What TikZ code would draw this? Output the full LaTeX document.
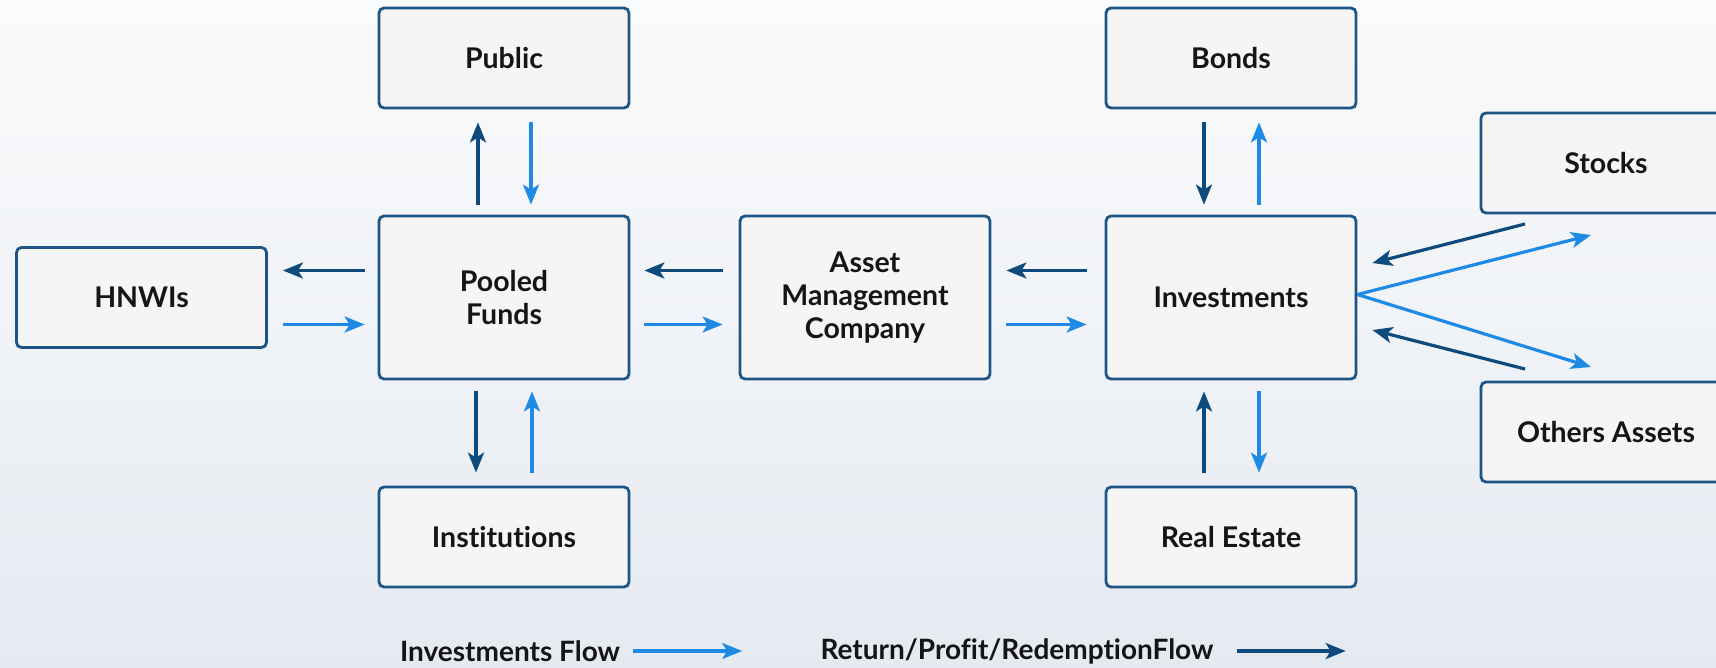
\documentclass[tikz,border=0pt]{standalone}
\usepackage{fontspec}
\setmainfont{Lato}[Ligatures=NoCommon]
\usetikzlibrary{arrows.meta,calc}
\definecolor{bgtop}{HTML}{FAFBFC}
\definecolor{bgbot}{HTML}{E5EAF1}
\definecolor{boxfill}{HTML}{F5F5F5}
\definecolor{boxline}{HTML}{1D5587}
\definecolor{darkarr}{HTML}{0E4A7B}
\definecolor{lightarr}{HTML}{1E8AE6}
\definecolor{txt}{HTML}{151515}
\begin{document}
\begin{tikzpicture}[x=1pt,y=-1pt,
  box/.style={draw=boxline,fill=boxfill,line width=2.8pt,rounded corners=5pt,
    minimum width=250pt,minimum height=100pt,align=center,text=txt,
    font=\fontsize{28.5}{33}\selectfont\bfseries,inner sep=0pt},
  tall/.style={minimum height=163pt},
  dk/.style={draw=darkarr,line width=3.2pt,-{Stealth[length=20pt,width=16pt,inset=5pt]}},
  lt/.style={draw=lightarr,line width=3.2pt,-{Stealth[length=20pt,width=16pt,inset=5pt]}},
  leg/.style={text=txt,font=\fontsize{28}{32}\selectfont\bfseries,inner sep=0pt}]
\useasboundingbox (0,0) rectangle (1716,667);
\clip (0,0) rectangle (1716,667);
\shade[top color=bgtop,bottom color=bgbot] (0,0) rectangle (1716,667);
% boxes
\node[box] (pub) at (504,58) {Public};
\node[box,tall] (pool) at (504,297.5) {Pooled\\Funds};
\node[box] (inst) at (504,537) {Institutions};
\node[box] (hnwi) at (141.5,297.5) {HNWIs};
\node[box,tall] (amc) at (865,297.5) {Asset\\Management\\Company};
\node[box,tall] (inv) at (1231,297.5) {Investments};
\node[box] (bonds) at (1231,58) {Bonds};
\node[box] (real) at (1231,537) {Real Estate};
\node[box] (stocks) at (1606,163) {Stocks};
\node[box] (others) at (1606,432) {Others Assets};
% pooled <-> public
\draw[dk,shorten <=10pt,shorten >=13pt] ([xshift=-26]pool.north) -- ([xshift=-26]pub.south);
\draw[lt,shorten <=13pt,shorten >=10pt] ([xshift=27]pub.south) -- ([xshift=27]pool.north);
% pooled <-> institutions
\draw[dk,shorten <=11pt,shorten >=13pt] ([xshift=-28]pool.south) -- ([xshift=-28]inst.north);
\draw[lt,shorten <=13pt,shorten >=11pt] ([xshift=28]inst.north) -- ([xshift=28]pool.south);
% hnwi <-> pooled
\draw[dk,shorten <=13pt,shorten >=15pt] ([yshift=27]pool.west) -- ([yshift=27]hnwi.east);
\draw[lt,shorten <=15pt,shorten >=13pt] ([yshift=-27]hnwi.east) -- ([yshift=-27]pool.west);
% pooled <-> amc
\draw[dk,shorten <=16pt,shorten >=14pt] ([yshift=27]amc.west) -- ([yshift=27]pool.east);
\draw[lt,shorten <=14pt,shorten >=16pt] ([yshift=-27]pool.east) -- ([yshift=-27]amc.west);
% amc <-> investments
\draw[dk,shorten <=18pt,shorten >=15pt] ([yshift=27]inv.west) -- ([yshift=27]amc.east);
\draw[lt,shorten <=15pt,shorten >=18pt] ([yshift=-27]amc.east) -- ([yshift=-27]inv.west);
% bonds <-> investments
\draw[dk,shorten <=13pt,shorten >=10pt] ([xshift=-27]bonds.south) -- ([xshift=-27]inv.north);
\draw[lt,shorten <=10pt,shorten >=13pt] ([xshift=28]inv.north) -- ([xshift=28]bonds.south);
% real estate <-> investments
\draw[dk,shorten <=13pt,shorten >=11pt] ([xshift=-27]real.north) -- ([xshift=-27]inv.south);
\draw[lt,shorten <=11pt,shorten >=13pt] ([xshift=28]inv.south) -- ([xshift=28]real.north);
% stocks / others
\draw[dk] ($(stocks.center)+(-81,61)$) -- ($(inv.east)+(15,-34.5)$);
\draw[lt] ($(inv.east)+(0,-3)$) -- ($(stocks.center)+(-15,72)$);
\draw[lt] ($(inv.east)+(0,-3)$) -- ($(others.center)+(-15,-65)$);
\draw[dk] ($(others.center)+(-81,-63)$) -- ($(inv.east)+(15,32.5)$);
% legend
\node[leg] (legA) at (510,651) {Investments Flow};
\node[leg] (legB) at (1017,651) {Return/Profit/RedemptionFlow};
\draw[lt] ([xshift=13]legA.east) -- ++(109,0);
\draw[dk] ([xshift=23]legB.east) -- ++(109,0);
\end{tikzpicture}
\end{document}
